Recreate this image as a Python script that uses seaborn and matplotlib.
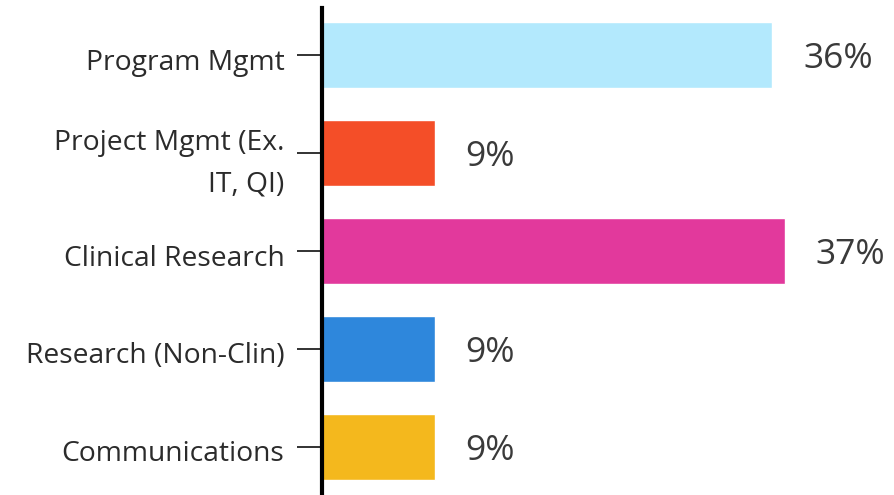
import matplotlib.pyplot as plt
import matplotlib.transforms as mtransforms
import seaborn as sns
import pandas as pd

# data
categories = ["Program Mgmt", "Project Mgmt (Ex.\nIT, QI)", "Clinical Research",
              "Research (Non-Clin)", "Communications"]
values = [36, 9, 37, 9, 9]
colors = ["#B3E9FD", "#F44E28", "#E2399C", "#2E87DC", "#F4B81D"]

df = pd.DataFrame({"category": categories, "pct": values})

sns.set_style("white")
plt.rcParams["font.family"] = ["Open Sans", "DejaVu Sans"]

fig = plt.figure(figsize=(8.95, 4.95), dpi=100)
ax = fig.add_axes([322 / 895, 0.0, 1 - 322 / 895, 1 - 8 / 495])

sns.barplot(data=df, x="pct", y="category", hue="category", palette=colors,
            orient="h", width=0.68, legend=False, ax=ax, saturation=1)

for c in ax.containers:
    for t in ax.bar_label(c, labels=[f"{v:g}%" for v in c.datavalues], padding=22,
                          fontsize=25.5, color="#3a3a3a"):
        t.xyann = (22, -3)  # ref text sits a touch below bar centre

ax.set_xlim(0, 45.8)
ax.set_ylim(4.49, -0.48)
ax.set_xlabel("")
ax.set_ylabel("")
ax.set_xticks([])
for s in ["top", "right", "bottom"]:
    ax.spines[s].set_visible(False)
ax.spines["left"].set_linewidth(3)
ax.spines["left"].set_color("black")
ax.tick_params(axis="y", length=18, width=1.3, color="#222222", pad=9,
               labelsize=20.3, labelcolor="#2b2b2b", left=True)

shift = mtransforms.ScaledTranslation(0, -4 / 100, fig.dpi_scale_trans)
for t in ax.get_yticklabels():
    if "\n" in t.get_text():
        t.set_linespacing(1.65)
    else:
        t.set_transform(t.get_transform() + shift)

fig.savefig("out.png", dpi=100)
